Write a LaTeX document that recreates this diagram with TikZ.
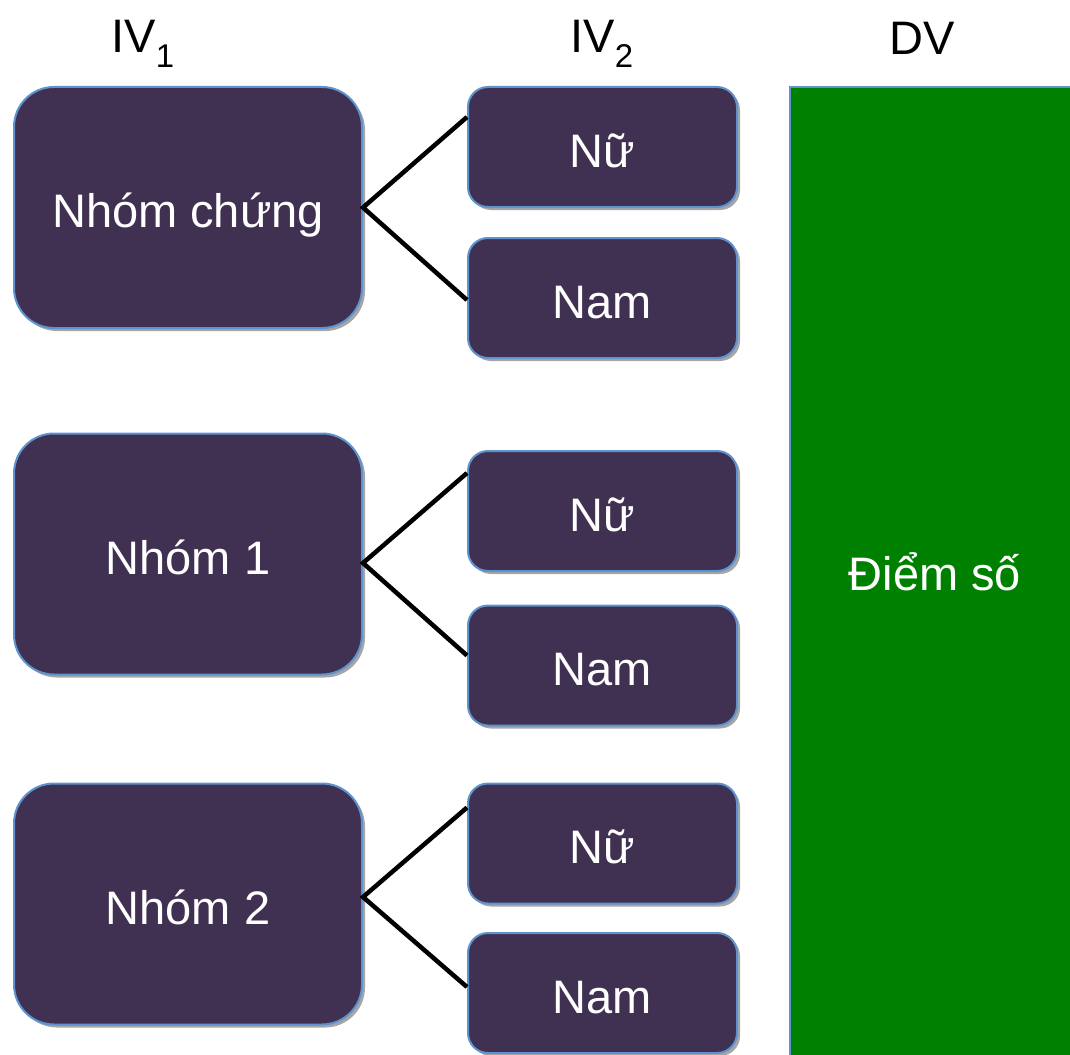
\documentclass[tikz,border=0pt]{standalone}
\usepackage{fontspec}
\setmainfont{Liberation Sans}
\usetikzlibrary{shadows,calc}
\definecolor{boxfill}{HTML}{403152}
\definecolor{boxline}{HTML}{5E93CE}
\definecolor{scorefill}{HTML}{008000}
\tikzset{
  labelfont/.style={font=\fontsize{47}{56}\selectfont},
  boxbase/.style={draw=boxline, line width=2pt, fill=boxfill, text=white,
    labelfont, text height=40pt, text depth=0pt, inner sep=0pt,
    drop shadow={shadow xshift=3pt, shadow yshift=-3pt, opacity=0.35, fill=black}},
  grp/.style={boxbase, rounded corners=40pt, minimum width=348pt, minimum height=241pt},
  sex/.style={boxbase, rounded corners=20pt, minimum width=269pt, minimum height=120pt},
  score/.style={draw=boxline, line width=2pt, fill=scorefill, text=white,
    labelfont, text height=34pt, text depth=0pt, inner sep=0pt,
    minimum width=290pt, minimum height=973pt},
  hdr/.style={labelfont, anchor=base, inner sep=0pt},
  link/.style={line width=4.5pt, black}
}
\begin{document}
\begin{tikzpicture}[x=1pt,y=-1pt]
\useasboundingbox (0,0) rectangle (1070,1054);

% column headers
\node[hdr] (h1) at (143,53) {IV\textsubscript{1}};
\node[hdr] (h2) at (602,53) {IV\textsubscript{2}};
\node[hdr] (h3) at (922,55) {DV};

% dependent variable
\node[score] (dv) at (935,573.5) {Điểm số};

% first factor
\node[grp] (g1) at (188,207.5) {Nhóm chứng};
\node[grp] (g2) at (188,554) {Nhóm 1};
\node[grp] (g3) at (188,904) {Nhóm 2};

% second factor
\node[sex] (f1) at (602.5,147) {Nữ};
\node[sex] (m1) at (602.5,298) {Nam};
\node[sex] (f2) at (602.5,511) {Nữ};
\node[sex] (m2) at (602.5,665.5) {Nam};
\node[sex] (f3) at (602.5,843.5) {Nữ};
\node[sex] (m3) at (602.5,993) {Nam};

% branches
\draw[link] ([yshift=30pt]f1.west) -- (g1.east) -- ([yshift=-2pt]m1.west);
\draw[link] ([yshift=38pt]f2.west) -- ([yshift=-9pt]g2.east) -- ([yshift=10pt]m2.west);
\draw[link] ([yshift=36pt]f3.west) -- ([yshift=7pt]g3.east) -- ([yshift=6pt]m3.west);
\end{tikzpicture}
\end{document}
